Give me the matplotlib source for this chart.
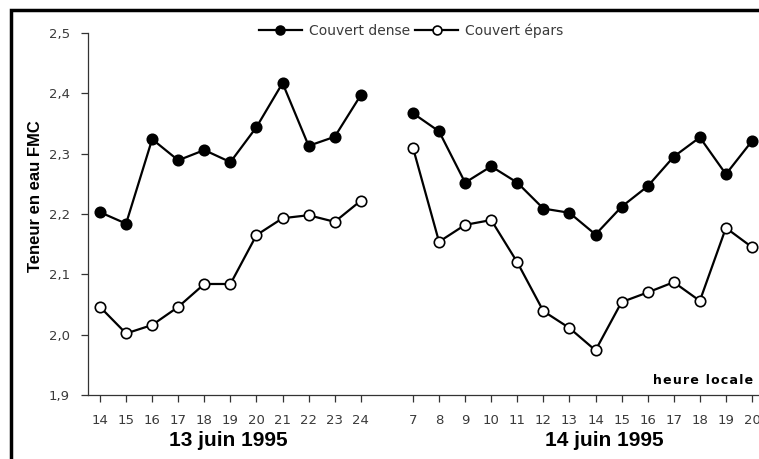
import matplotlib
matplotlib.use("Agg")
import matplotlib.pyplot as plt
from matplotlib.patches import Rectangle
import numpy as np

plt.rcParams['font.family'] = ['Liberation Sans', 'DejaVu Sans']

hours_day1 = [14, 15, 16, 17, 18, 19, 20, 21, 22, 23, 24]
hours_day2 = [7, 8, 9, 10, 11, 12, 13, 14, 15, 16, 17, 18, 19, 20]
dense_day1 = [2.203, 2.184, 2.324, 2.289, 2.306, 2.286, 2.344, 2.417, 2.313, 2.328, 2.397]
sparse_day1 = [2.046, 2.002, 2.016, 2.046, 2.084, 2.084, 2.165, 2.193, 2.198, 2.187, 2.222]
dense_day2 = [2.367, 2.337, 2.252, 2.279, 2.252, 2.209, 2.202, 2.166, 2.212, 2.246, 2.295, 2.327, 2.266, 2.321]
sparse_day2 = [2.310, 2.154, 2.182, 2.190, 2.120, 2.039, 2.011, 1.974, 2.054, 2.070, 2.087, 2.056, 2.177, 2.145]
day_labels = ["13 juin 1995", "14 juin 1995"]
series_names = ["Couvert dense", "Couvert épars"]
yticks = [1.9, 2.0, 2.1, 2.2, 2.3, 2.4, 2.5]
x_title = "heure locale"

W, H = 759, 459
fig = plt.figure(figsize=(W / 100, H / 100), dpi=100)

# categorical positions: day 1, one empty slot, day 2
pos1 = np.arange(len(hours_day1))
pos2 = np.arange(len(hours_day2)) + len(hours_day1) + 1

ax_left, ax_right, ax_top, ax_bottom = 88, 765, 33, 395
ax = fig.add_axes([ax_left / W, 1 - ax_bottom / H, (ax_right - ax_left) / W, (ax_bottom - ax_top) / H])

lw = 1.6
ms = 7.5
dense_kw = dict(color='black', lw=lw, marker='o', ms=ms, mfc='black', mec='black', mew=1.2)
sparse_kw = dict(color='black', lw=lw, marker='o', ms=ms, mfc='white', mec='black', mew=1.2)

l1, = ax.plot(pos1, dense_day1, **dense_kw)
ax.plot(pos2, dense_day2, **dense_kw)
l2, = ax.plot(pos1, sparse_day1, **sparse_kw)
ax.plot(pos2, sparse_day2, **sparse_kw)

ax.set_xlim(-0.46, (ax_right - 100) / 26.08)
ax.set_ylim(1.9, 2.5)
ax.set_yticks(yticks)
ax.set_yticklabels([f"{v:.1f}".replace('.', ',') for v in yticks])
ax.set_xticks(list(pos1) + list(pos2))
ax.set_xticklabels([str(h) for h in hours_day1 + hours_day2])

for s in ['top', 'right']:
    ax.spines[s].set_visible(False)
for s in ['left', 'bottom']:
    ax.spines[s].set_color('#333333')
    ax.spines[s].set_linewidth(0.9)
ax.tick_params(axis='both', direction='out', length=5, width=0.9, color='#333333',
               labelsize=9.5, labelcolor='#3a3a3a')
ax.tick_params(axis='x', pad=9)
ax.tick_params(axis='y', pad=8)
for lab in ax.get_xticklabels() + ax.get_yticklabels():
    lab.set_family('DejaVu Sans')

# date labels under each day
fig.text(228 / W, 1 - 441 / H, day_labels[0], ha='center', va='center',
         fontsize=15, fontweight='bold')
fig.text(604 / W, 1 - 441 / H, day_labels[1], ha='center', va='center',
         fontsize=15, fontweight='bold')

# letter-spaced axis title (hair spaces between letters)
fig.text(753 / W, 1 - 380 / H, "\u200a".join(x_title), ha='right', va='center',
         fontsize=9, fontweight='bold', family='DejaVu Sans')

fig.text(36 / W, 1 - 196 / H, "Teneur en eau FMC", rotation=90, ha='center', va='center',
         fontsize=12, fontweight='bold')

leg = fig.legend([l1, l2], series_names, loc='center', bbox_to_anchor=(411 / W, 1 - 31 / H),
                 ncol=2, frameon=False, handlelength=3.1, handletextpad=0.5, columnspacing=0.4,
                 prop={'family': 'DejaVu Sans', 'size': 10}, markerscale=0.85)
for t in leg.get_texts():
    t.set_color('#3a3a3a')

# outer frame (cropped at right and bottom)
fig.patches.append(Rectangle((11 / W, -0.1), 1.2, 1 - 10 / H + 0.1, transform=fig.transFigure,
                             fill=False, ec='black', lw=2.5, figure=fig))

fig.savefig("out.png", dpi=100)
